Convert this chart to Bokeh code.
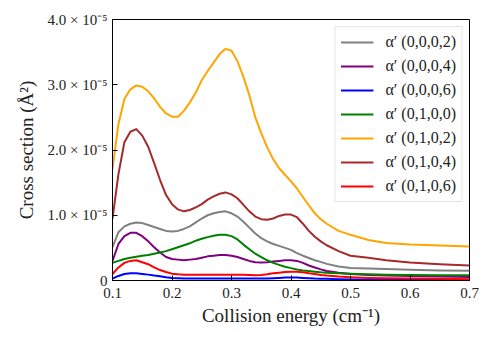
from bokeh.plotting import figure
from bokeh.models import FixedTicker, Legend, LegendItem, Range1d
from bokeh.embed import file_html
from bokeh.resources import INLINE

# Collision energy grid (cm^-1)
energy = [0.10, 0.11, 0.12, 0.13, 0.14, 0.15, 0.16, 0.17, 0.18, 0.19,
          0.20, 0.21, 0.22, 0.23, 0.24, 0.25, 0.26, 0.27, 0.28, 0.29,
          0.30, 0.31, 0.32, 0.33, 0.34, 0.35, 0.36, 0.37, 0.38, 0.39,
          0.40, 0.41, 0.42, 0.43, 0.44, 0.45, 0.46, 0.48, 0.50, 0.53,
          0.56, 0.60, 0.65, 0.70]

# Cross sections in units of 1e-5 Å^2
s_0002 = [0.51, 0.74, 0.83, 0.87, 0.89, 0.88, 0.85, 0.82, 0.79, 0.76,
          0.75, 0.76, 0.79, 0.83, 0.89, 0.95, 1.00, 1.03, 1.05, 1.06,
          1.03, 0.98, 0.90, 0.81, 0.72, 0.65, 0.60, 0.56, 0.53, 0.50,
          0.47, 0.42, 0.38, 0.345, 0.31, 0.285, 0.255, 0.215, 0.19, 0.185,
          0.175, 0.165, 0.155, 0.15]
s_0004 = [0.30, 0.56, 0.68, 0.73, 0.73, 0.68, 0.60, 0.51, 0.43, 0.36,
          0.33, 0.32, 0.31, 0.32, 0.33, 0.35, 0.37, 0.38, 0.39, 0.39,
          0.38, 0.36, 0.33, 0.30, 0.28, 0.275, 0.28, 0.29, 0.30, 0.31,
          0.31, 0.30, 0.27, 0.23, 0.20, 0.17, 0.145, 0.12, 0.10, 0.085,
          0.075, 0.07, 0.06, 0.055]
s_0006 = [0.03, 0.07, 0.10, 0.11, 0.11, 0.10, 0.09, 0.075, 0.065, 0.05,
          0.04, 0.035, 0.03, 0.03, 0.03, 0.03, 0.03, 0.03, 0.03, 0.03,
          0.03, 0.03, 0.03, 0.03, 0.03, 0.03, 0.03, 0.035, 0.04, 0.045,
          0.045, 0.045, 0.04, 0.035, 0.03, 0.028, 0.025, 0.02, 0.015, 0.01,
          0.01, 0.01, 0.01, 0.01]
s_0100 = [0.27, 0.30, 0.33, 0.35, 0.365, 0.38, 0.39, 0.41, 0.43, 0.45,
          0.48, 0.51, 0.54, 0.57, 0.61, 0.64, 0.665, 0.685, 0.70, 0.70,
          0.68, 0.63, 0.55, 0.48, 0.41, 0.36, 0.31, 0.27, 0.24, 0.21,
          0.19, 0.17, 0.155, 0.145, 0.135, 0.125, 0.12, 0.11, 0.105, 0.095,
          0.09, 0.085, 0.08, 0.08]
s_0102 = [1.71, 2.40, 2.78, 2.93, 2.99, 2.97, 2.90, 2.79, 2.66, 2.56,
          2.51, 2.51, 2.60, 2.73, 2.88, 3.07, 3.21, 3.34, 3.47, 3.55,
          3.52, 3.36, 3.12, 2.84, 2.50, 2.26, 2.04, 1.86, 1.72, 1.62,
          1.52, 1.41, 1.28, 1.15, 1.03, 0.94, 0.87, 0.76, 0.70, 0.62,
          0.575, 0.55, 0.535, 0.52]
s_0104 = [0.95, 1.63, 2.12, 2.28, 2.32, 2.22, 2.05, 1.80, 1.54, 1.31,
          1.17, 1.09, 1.06, 1.08, 1.12, 1.17, 1.24, 1.29, 1.33, 1.35,
          1.32, 1.26, 1.16, 1.06, 0.98, 0.94, 0.93, 0.95, 0.99, 1.01,
          1.01, 0.97, 0.87, 0.76, 0.67, 0.60, 0.54, 0.45, 0.38, 0.35,
          0.31, 0.275, 0.25, 0.23]
s_0106 = [0.10, 0.20, 0.27, 0.30, 0.31, 0.28, 0.25, 0.20, 0.16, 0.13,
          0.105, 0.095, 0.09, 0.09, 0.09, 0.09, 0.09, 0.09, 0.09, 0.09,
          0.09, 0.09, 0.09, 0.085, 0.08, 0.085, 0.095, 0.11, 0.12, 0.13,
          0.135, 0.135, 0.125, 0.11, 0.10, 0.085, 0.075, 0.06, 0.05, 0.04,
          0.035, 0.03, 0.025, 0.02]

series_labels = ["α′ (0,0,0,2)", "α′ (0,0,0,4)", "α′ (0,0,0,6)", "α′ (0,1,0,0)",
                 "α′ (0,1,0,2)", "α′ (0,1,0,4)", "α′ (0,1,0,6)"]
series_values = [s_0002, s_0004, s_0006, s_0100, s_0102, s_0104, s_0106]
series_colors = ["gray", "purple", "blue", "green", "orange", "brown", "red"]

x_ticks = [0.1, 0.2, 0.3, 0.4, 0.5, 0.6, 0.7]
y_ticks = [0, 1, 2, 3, 4]
y_tick_labels = ["0", "1.0 × 10⁻⁵", "2.0 × 10⁻⁵", "3.0 × 10⁻⁵", "4.0 × 10⁻⁵"]

FONT = "Liberation Serif"

p = figure(width=488, height=330, output_backend="svg", toolbar_location=None,
           x_range=Range1d(0.1, 0.7), y_range=Range1d(0, 4),
           min_border_left=112, min_border_right=19, min_border_top=19, min_border_bottom=50)
p.background_fill_color = "white"
p.border_fill_color = "white"
p.outline_line_color = "black"
p.outline_line_width = 1
p.xgrid.visible = False
p.ygrid.visible = False

items = []
for lab, vals, col in zip(series_labels, series_values, series_colors):
    r = p.line(energy, vals, line_color=col, line_width=2, line_join="round")
    items.append(LegendItem(label=lab, renderers=[r]))

for ax in (p.xaxis[0], p.yaxis[0]):
    ax.major_tick_in = 5
    ax.major_tick_out = 0
    ax.minor_tick_line_color = None
    ax.axis_line_color = "black"
    ax.major_tick_line_color = "black"
    ax.major_label_text_font = FONT
    ax.major_label_text_font_size = "15px"
    ax.major_label_text_color = "#222222"
    ax.axis_label_text_font = FONT
    ax.axis_label_text_font_size = "19px"
    ax.axis_label_text_font_style = "normal"
    ax.axis_label_text_color = "#222222"

p.xaxis.ticker = FixedTicker(ticks=x_ticks)
p.yaxis.ticker = FixedTicker(ticks=y_ticks)
p.yaxis.major_label_overrides = {t: l for t, l in zip(y_ticks, y_tick_labels)}
p.xaxis.axis_label = "Collision energy (cm⁻¹)"
p.yaxis.axis_label = "Cross section (Å²)"
p.xaxis.major_label_standoff = 7
p.yaxis.major_label_standoff = 5
p.xaxis.axis_label_standoff = 4
p.yaxis.axis_label_standoff = 8

legend = Legend(items=items, location="top_right")
legend.label_text_font = FONT
legend.label_text_font_size = "16px"
legend.label_text_color = "#222222"
legend.glyph_width = 33
legend.glyph_height = 20
legend.label_height = 20
legend.label_standoff = 12
legend.spacing = 4
legend.padding = 5
legend.margin = 7
legend.border_line_color = "#cccccc"
legend.border_line_width = 1
legend.background_fill_alpha = 0.9
p.add_layout(legend)

open("out.html", "w").write(file_html(p, INLINE))
